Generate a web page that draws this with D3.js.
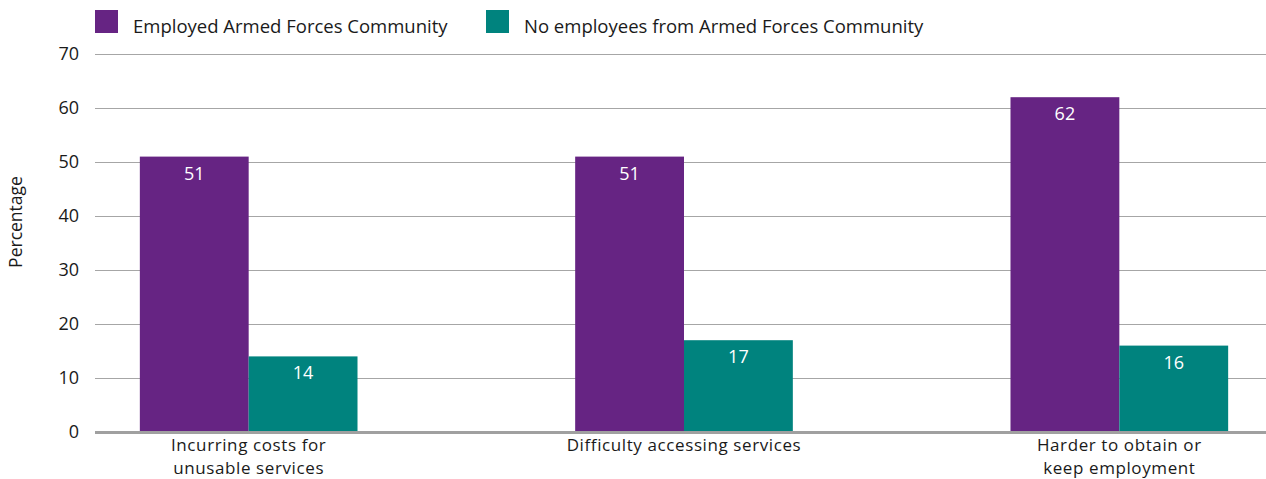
<!DOCTYPE html>
<html><head><meta charset="utf-8">
<script src="https://cdn.jsdelivr.net/npm/d3@7"></script>
<style>
body{margin:0;background:#fff;}
svg{display:block;font-family:"Open Sans","Noto Sans",sans-serif;}
</style></head>
<body><svg id="c" width="1266" height="479"></svg>
<script>
const categories = [["Incurring costs for","unusable services"],["Difficulty accessing services"],["Harder to obtain or","keep employment"]];
const seriesNames = ["Employed Armed Forces Community","No employees from Armed Forces Community"];
const employed = [51, 51, 62];
const noEmployees = [14, 17, 16];
const yTicks = [0,10,20,30,40,50,60,70];
const colors = ["#662483","#00837e"];

(function(){
const svg = d3.select("#c");
const W = 1266, H = 479;
const mLeft = 95, mRight = 1273, mTop = 54, mBottom = 432;

const catKeys = categories.map((c,i)=>i);
const x0 = d3.scaleBand().domain(catKeys).range([mLeft, mRight]).paddingInner(0.5).paddingOuter(0.103);
const x1 = d3.scaleBand().domain([0,1]).range([0, x0.bandwidth()]);
const y = d3.scaleLinear().domain([0,70]).range([mBottom, mTop]);

const grid = svg.append("g").attr("transform",`translate(${mLeft},0)`)
  .call(d3.axisLeft(y).tickValues(yTicks.filter(d=>d>0)).tickSize(-(W-mLeft)).tickFormat(""));
grid.select(".domain").remove();
grid.selectAll("line").attr("stroke","#a6a6a6").attr("stroke-width",1.2);

const yAxis = svg.append("g").attr("transform",`translate(${mLeft},0)`)
  .call(d3.axisLeft(y).tickValues(yTicks).tickSize(0).tickPadding(16));
yAxis.select(".domain").remove();
yAxis.selectAll("text").attr("font-size",18).attr("fill","#1a1a1a").attr("font-family","'Open Sans',sans-serif");

const data = catKeys.map(i=>[employed[i], noEmployees[i]]);
const groups = svg.append("g").selectAll("g").data(data).join("g")
  .attr("transform",(d,i)=>`translate(${x0(i)},0)`);
groups.selectAll("rect").data(d=>d).join("rect")
  .attr("x",(d,j)=>x1(j)).attr("width",x1.bandwidth())
  .attr("y",d=>y(d)).attr("height",d=>mBottom-y(d))
  .attr("fill",(d,j)=>colors[j]);
groups.selectAll("text").data(d=>d).join("text")
  .attr("x",(d,j)=>x1(j)+x1.bandwidth()/2).attr("y",d=>y(d)+23)
  .attr("text-anchor","middle").attr("fill","#fff").attr("font-size",18)
  .text(d=>d);

svg.append("line").attr("x1",mLeft).attr("x2",W).attr("y1",mBottom+0.5).attr("y2",mBottom+0.5)
  .attr("stroke","#a0a0a0").attr("stroke-width",3);

const baseY = [450.5, 473.8];
categories.forEach((lines,i)=>{
  lines.forEach((l,k)=>{
    svg.append("text").attr("x",x0(i)+x0.bandwidth()/2).attr("y",baseY[k])
      .attr("text-anchor","middle").attr("font-size",17).attr("letter-spacing",0.6)
      .attr("fill","#1a1a1a").text(l);
  });
});

svg.append("text").attr("transform","translate(22,222) rotate(-90)")
  .attr("text-anchor","middle").attr("font-size",17.5).attr("fill","#1a1a1a").text("Percentage");

const legX = [95, 486];
const leg = svg.append("g").selectAll("g").data(seriesNames).join("g")
  .attr("transform",(d,i)=>`translate(${legX[i]},10)`);
leg.append("rect").attr("width",23).attr("height",23).attr("fill",(d,i)=>colors[i]);
leg.append("text").attr("x",38).attr("y",23)
  .attr("font-size",18.5).attr("fill","#1a1a1a").text(d=>d);
})();
</script></body></html>
